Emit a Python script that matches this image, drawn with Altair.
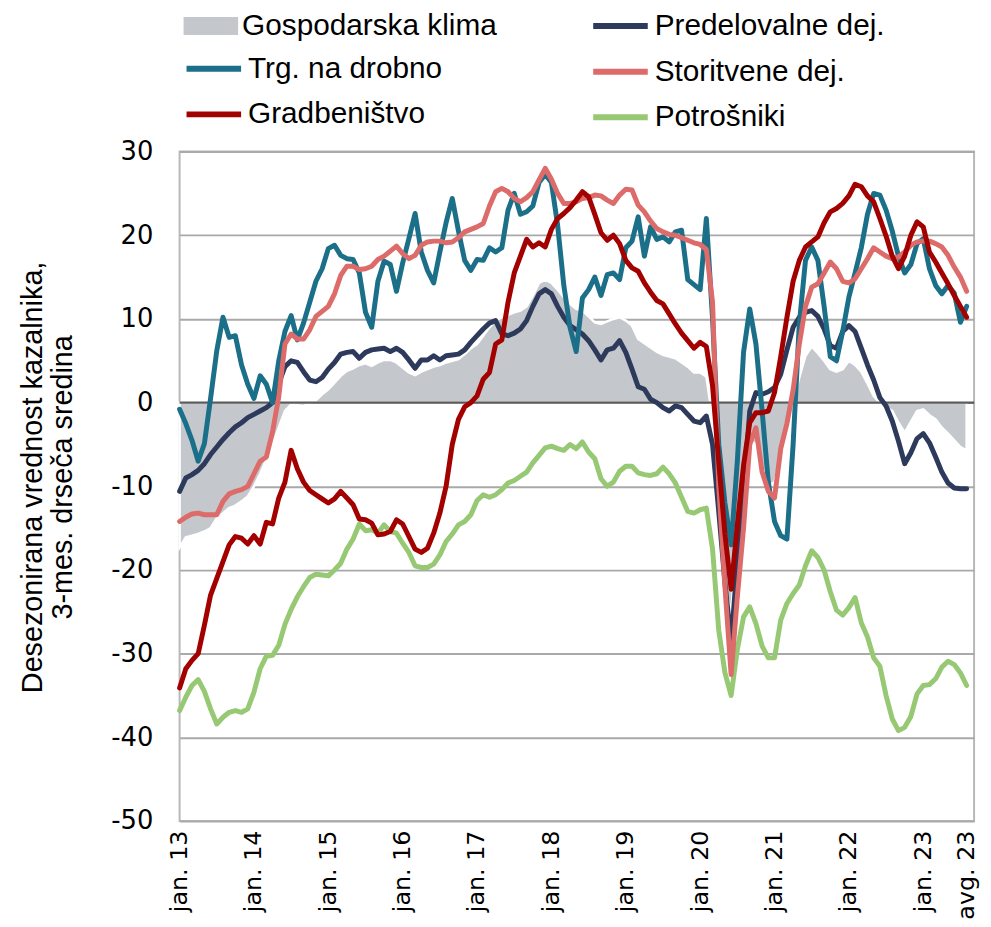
import altair as alt
import pandas as pd

# ---------------- data (monthly, jan 2013 .. avg 2023) ----------------
klima = [
    -17.3, -16.1, -15.9, -15.7, -15.4, -15.0, -13.8, -13.2, -12.6, -12.3, -11.8, -11.2,
    -10.0, -8.5, -6.8, -5.0, -3.0, -1.0, -0.2, -0.3, -0.4, -0.1, 0.3, 1.0,
    1.6, 2.4, 3.2, 3.8, 4.1, 4.5, 4.7, 4.4, 4.8, 5.1, 5.1, 4.8,
    4.2, 3.6, 3.3, 3.7, 4.0, 4.3, 4.5, 4.8, 5.0, 5.2, 5.8, 6.5,
    7.0, 8.0, 9.0, 9.8, 10.2, 10.5, 10.8, 11.0, 11.5, 12.8, 14.3, 14.7,
    14.3, 13.5, 12.6, 11.8, 11.2, 11.0, 10.3, 9.6, 9.4, 9.7, 10.0, 10.2,
    9.8, 9.2, 7.6, 7.1, 6.6, 6.1, 5.7, 5.5, 5.3, 4.8, 4.3, 3.6,
    3.6, 3.1, -2.0, -12.0, -22.0, -25.0, -16.0, -8.0, -4.5, -5.0, -7.5, -10.0,
    -9.5, -6.5, -3.0, 0.0, 3.0, 5.6, 6.7, 5.9, 5.0, 4.0, 3.7, 4.0,
    5.0, 4.5, 3.7, 2.3, 0.8, 0.0, -0.6, -1.0, -2.4, -3.6, -2.3, -1.0,
    -0.8, -1.5, -2.0, -3.0, -3.7, -4.5, -5.3, -5.7,
]
predel = [
    -10.6, -9.0, -8.6, -8.1, -7.3, -6.2, -5.3, -4.4, -3.6, -2.9, -2.4, -1.8,
    -1.4, -1.0, -0.6, 0.0, 2.3, 4.3, 5.0, 4.8, 3.7, 2.7, 2.5, 3.0,
    4.0, 4.8, 5.8, 6.0, 6.1, 5.3, 6.0, 6.3, 6.4, 6.5, 6.1, 6.5,
    6.0, 5.1, 4.1, 5.1, 5.1, 5.6, 5.1, 5.6, 5.7, 5.8, 6.3, 7.2,
    8.0, 8.8, 9.5, 9.8, 8.2, 8.0, 8.3, 8.8, 9.8, 11.5, 13.0, 13.5,
    13.0, 11.5, 10.2, 9.2, 8.7, 8.2, 7.4, 6.3, 5.1, 6.3, 6.5, 7.4,
    6.0, 4.0, 1.9, 1.6, 0.4, 0.0, -0.6, -1.0, -0.4, -0.6, -1.4, -2.2,
    -2.4, -1.6, -5.0, -13.0, -21.5, -28.7, -19.0, -10.6, -1.0, 1.2, 1.0, 1.3,
    1.8, 3.4, 6.3, 9.0, 10.2, 10.8, 11.0, 10.3, 8.8, 6.8, 6.5, 8.5,
    9.2, 8.5, 6.5, 4.5, 2.7, 0.6, -0.4, -2.2, -4.6, -7.3, -6.0, -4.3,
    -3.7, -4.8, -6.5, -8.3, -9.6, -10.2, -10.3, -10.3,
]
trg = [
    -0.8, -2.5, -4.5, -7.0, -4.9, 0.5, 6.2, 10.2, 7.8, 8.0, 4.5, 2.2,
    0.5, 3.2, 2.2, 0.0, 5.0, 8.5, 10.4, 7.5, 9.5, 12.0, 14.5, 16.0,
    18.4, 18.8, 17.6, 17.2, 17.1, 15.5, 10.8, 9.0, 14.5, 16.9, 16.5, 13.3,
    16.7, 19.6, 22.6, 18.0, 15.8, 14.3, 18.0, 21.5, 24.4, 20.5, 17.0, 15.8,
    17.1, 17.0, 18.5, 18.0, 18.5, 23.0, 25.0, 22.5, 22.8, 23.5, 26.3, 27.3,
    26.3, 21.2, 14.0, 9.0, 6.1, 12.5, 13.5, 15.0, 12.8, 15.3, 15.5, 14.7,
    18.5, 19.3, 22.2, 17.5, 21.0, 19.5, 19.8, 19.2, 20.4, 20.6, 14.7, 14.1,
    13.5, 22.0, 10.0, -5.0, -12.0, -17.0, -7.0, 6.0, 11.2, 7.0, -1.0, -9.5,
    -14.2, -15.9, -16.3, -5.0, 9.4, 17.0, 18.6, 17.0, 11.5, 5.5, 5.0, 8.5,
    12.6, 15.5, 18.5, 22.5, 25.0, 24.8, 23.0, 20.5, 17.5, 15.5, 16.5, 19.0,
    19.6, 16.0, 14.0, 13.0, 14.0, 13.1, 9.6, 11.5,
]
storit = [
    -14.2, -13.7, -13.3, -13.2, -13.4, -13.4, -13.4, -11.8, -10.9, -10.6, -10.4, -10.0,
    -8.5, -7.0, -6.5, -3.5, 0.7, 7.0, 8.2, 7.6, 7.6, 8.7, 10.3, 10.9,
    11.5, 13.0, 15.2, 16.3, 16.3, 15.9, 16.0, 16.3, 17.1, 17.5, 18.1, 18.7,
    17.8, 17.2, 17.6, 18.8, 19.2, 19.3, 19.3, 19.1, 19.2, 19.7, 20.4, 20.7,
    21.0, 21.4, 23.5, 25.2, 25.6, 25.2, 24.4, 24.0, 24.5, 25.2, 26.6, 28.0,
    26.7, 25.0, 23.8, 23.8, 24.0, 24.4, 24.5, 24.8, 24.7, 24.2, 23.8, 24.8,
    25.5, 25.4, 23.6, 22.8, 21.7, 20.8, 20.4, 20.1, 20.0, 19.7, 19.4, 19.1,
    18.9, 18.3, 12.0, -10.0, -22.0, -32.5, -23.2, -15.0, -5.0, -3.0, -8.3, -10.6,
    -11.4, -5.5, -2.5, 1.5, 7.0, 11.5, 13.8, 14.2, 15.5, 16.8, 16.0, 14.5,
    14.3, 14.8, 16.0, 17.2, 18.5, 18.0, 17.5, 17.2, 17.4, 18.0, 18.8, 19.2,
    19.3, 19.3, 19.0, 18.6, 17.6, 16.2, 15.0, 13.3,
]
gradb = [
    -34.1, -31.8, -30.8, -30.0, -26.6, -23.0, -21.0, -19.0, -17.0, -16.0, -16.2, -16.9,
    -15.9, -16.9, -14.3, -14.5, -11.4, -9.5, -5.7, -7.9, -9.5, -10.5, -11.0, -11.5,
    -12.0, -11.5, -10.6, -11.4, -12.2, -13.9, -14.0, -14.4, -15.8, -15.7, -15.4, -14.0,
    -14.5, -16.0, -17.5, -17.9, -17.4, -15.6, -13.2, -10.0, -5.0, -2.0, -0.5, 0.0,
    0.8, 2.8, 3.6, 7.0, 7.5, 12.0, 15.5, 17.5, 19.5, 18.6, 19.1, 18.6,
    20.7, 22.0, 22.6, 23.3, 24.2, 25.2, 24.6, 22.5, 20.3, 19.4, 20.0, 19.0,
    17.0, 16.1, 15.7, 14.3, 13.2, 12.2, 11.8, 10.6, 9.4, 8.3, 7.4, 6.5,
    7.2, 6.7, 2.0, -7.1, -15.7, -22.3, -14.6, -7.5, -2.4, -1.2, -1.2, -1.0,
    1.2, 5.5, 10.2, 14.5, 17.0, 18.6, 19.2, 19.8, 21.5, 22.8, 23.2, 23.8,
    24.7, 26.1, 25.8, 24.7, 24.0, 22.0, 19.9, 17.5, 16.0, 17.5, 20.0, 21.6,
    21.0, 18.0, 16.8, 15.5, 14.2, 12.8, 11.5, 10.2,
]
potr = [
    -36.8, -35.2, -33.8, -33.1, -34.5, -36.6, -38.4, -37.6, -37.0, -36.8, -37.0, -36.6,
    -34.6, -31.8, -30.3, -30.2, -29.0, -26.5, -24.7, -23.2, -22.0, -20.9, -20.5, -20.6,
    -20.7, -20.0, -19.2, -17.5, -16.3, -14.5, -15.3, -15.2, -15.6, -14.6, -15.4, -15.6,
    -16.8, -17.9, -19.5, -19.7, -19.7, -19.3, -18.2, -16.6, -15.7, -14.6, -14.2, -13.4,
    -11.7, -11.0, -11.3, -11.0, -10.4, -9.6, -9.3, -8.8, -8.3, -7.2, -6.3, -5.4,
    -5.2, -5.5, -5.7, -5.0, -5.5, -4.7, -5.9, -6.7, -9.1, -10.0, -9.5, -8.2,
    -7.6, -7.6, -8.4, -8.6, -8.7, -8.5, -7.7, -8.5, -9.6, -11.3, -13.0, -13.2,
    -12.8, -12.6, -17.5, -27.2, -32.3, -35.0, -29.5, -25.6, -24.4, -26.4, -29.1, -30.5,
    -30.5, -26.0, -24.0, -22.8, -21.8, -19.5, -17.7, -18.5, -20.0, -22.6, -24.8, -25.4,
    -24.5, -23.3, -26.3, -28.0, -30.5, -31.5, -35.0, -37.8, -39.2, -38.8, -37.5, -34.8,
    -33.8, -33.7, -33.0, -31.6, -30.9, -31.3, -32.3, -33.8,
]

tick_values = [0, 12, 24, 36, 48, 60, 72, 84, 96, 108, 120, 127]
tick_labels = ["jan. 13", "jan. 14", "jan. 15", "jan. 16", "jan. 17", "jan. 18",
               "jan. 19", "jan. 20", "jan. 21", "jan. 22", "jan. 23", "avg. 23"]
y_ticks = [-50, -40, -30, -20, -10, 0, 10, 20, 30]

names = {
    "klima": "Gospodarska klima",
    "predel": "Predelovalne dej.",
    "trg": "Trg. na drobno",
    "storit": "Storitvene dej.",
    "gradb": "Gradbeništvo",
    "potr": "Potrošniki",
}
colors = {
    "klima": "#c4c8cc",
    "predel": "#2d3a5c",
    "trg": "#1b6f88",
    "storit": "#dc6b6a",
    "gradb": "#a30000",
    "potr": "#97c873",
}

months = list(range(len(klima)))


def frame(key, vals):
    return pd.DataFrame({"m": months, "v": vals, "s": names[key]})


LABEL_FONT = "DejaVu Sans"
TEXT_FONT = "Liberation Sans"

arr = "[" + ",".join(str(v) for v in tick_values) + "]"
labs = "[" + ",".join("'" + t + "'" for t in tick_labels) + "]"

X = alt.X(
    "m:Q",
    scale=alt.Scale(domain=[0, 128.2], nice=False, zero=False),
    axis=alt.Axis(
        values=tick_values,
        labelExpr=f"{labs}[indexof({arr}, datum.value)]",
        labelAngle=270, labelAlign="right", labelBaseline="middle",
        labelPadding=9, ticks=False, domain=False, grid=False, title=None,
        labelFont=LABEL_FONT, labelFontSize=24, labelColor="#000000",
        labelOverlap=False, labelBound=False, labelFlush=False,
    ),
)
Y = alt.Y(
    "v:Q",
    scale=alt.Scale(domain=[-50, 30], nice=False, zero=False),
    axis=alt.Axis(
        values=y_ticks, labelExpr="datum.value + ''",
        grid=True, gridColor="#a9a9a9", gridWidth=2,
        ticks=False, domain=False,
        labelFont=LABEL_FONT, labelFontSize=26, labelPadding=27, labelColor="#000000",
        title=["Desezonirana vrednost kazalnika,", "3-mes. drseča sredina"],
        titleFont=TEXT_FONT, titleFontSize=29, titleFontWeight="normal",
        titleLineHeight=30, titleColor="#000000",
        titleAngle=270, titleAlign="center", titleBaseline="bottom",
        titleX=-133, titleY=328,
    ),
)

common_leg = dict(
    orient="none", title=None, padding=0, labelFont=TEXT_FONT, labelFontSize=30,
    labelColor="#000000", labelLimit=500, labelOffset=4, symbolSize=3025,
    direction="vertical", rowPadding=-5,
)

fill_scale = alt.Scale(domain=[names["klima"]], range=[colors["klima"]])
fill_leg = alt.Legend(legendX=4, legendY=-154, symbolType="M-1,-0.33H1V0.33H-1Z",
                      symbolStrokeWidth=0, **common_leg)

col_keys = ["trg", "gradb"]
color_scale = alt.Scale(domain=[names[k] for k in col_keys], range=[colors[k] for k in col_keys])
color_leg = alt.Legend(legendX=4, legendY=-114, symbolType="stroke", symbolStrokeWidth=6,
                       **common_leg)

str_keys = ["predel", "storit", "potr"]
stroke_scale = alt.Scale(domain=[names[k] for k in str_keys], range=[colors[k] for k in str_keys])
stroke_leg = alt.Legend(legendX=414, legendY=-157, symbolType="stroke", symbolStrokeWidth=6,
                        **common_leg)

area = alt.Chart(frame("klima", klima)).mark_area(
    stroke="white", strokeWidth=2.5, interpolate="linear"
).encode(x=X, y=Y, fill=alt.Fill("s:N", scale=fill_scale, legend=fill_leg))

zero = alt.Chart(pd.DataFrame({"v": [0]})).mark_rule(
    color="#5b5b5b", strokeWidth=2.5
).encode(y=Y)

line_kw = dict(strokeWidth=5, strokeJoin="round", strokeCap="round")


def stroke_line(key, vals):
    return alt.Chart(frame(key, vals)).mark_line(**line_kw).encode(
        x=X, y=Y, stroke=alt.Stroke("s:N", scale=stroke_scale, legend=stroke_leg))


def color_line(key, vals):
    return alt.Chart(frame(key, vals)).mark_line(**line_kw).encode(
        x=X, y=Y, color=alt.Color("s:N", scale=color_scale, legend=color_leg))


chart = alt.layer(
    area,
    zero,
    stroke_line("potr", potr),
    stroke_line("predel", predel),
    color_line("trg", trg),
    stroke_line("storit", storit),
    color_line("gradb", gradb),
).properties(
    width=801, height=675,
    autosize=alt.AutoSizeParams(type="none"),
    padding={"left": 173, "top": 141, "right": 9, "bottom": 95},
).configure_view(stroke="#b8b8b8", strokeWidth=2)

chart.save("out.html", embed_options={"renderer": "svg", "actions": False})
